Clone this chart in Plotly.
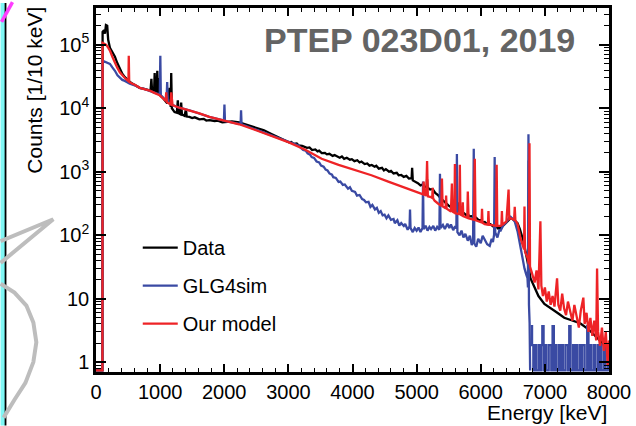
import math
import plotly.graph_objects as go

# Gamma-ray energy spectra, counts per 10 keV bin (energy in keV).
# Empty bins are stored as 0 and drawn on the bottom edge of the frame.

data_spectrum = [
    (0, 0), (100, 0), (103, 1.6e5), (125, 1.7e5), (140, 1.5e5), (155, 2.05e5), (175, 2.0e5),
    (190, 1.2e5), (217, 9.0e4), (250, 7.8e4), (295, 6.5e4), (330, 5.2e4), (372, 4.2e4),
    (410, 3.5e4), (450, 3.1e4), (490, 2.8e4), (527, 2.6e4), (565, 2.45e4), (605, 2.3e4),
    (645, 2.2e4), (682, 2.1e4), (720, 2.05e4), (760, 2.0e4), (800, 1.95e4), (850, 1.9e4),
    (864, 2.9e4), (875, 1.85e4), (905, 1.8e4), (915, 3.6e4), (925, 1.75e4), (945, 1.75e4),
    (956, 3.9e4), (968, 1.7e4), (982, 3.0e4), (992, 1.65e4), (1030, 1.5e4), (1070, 1.35e4),
    (1110, 1.2e4), (1147, 2.1e4), (1155, 1.1e4), (1165, 1.05e4), (1173, 3.6e4), (1183, 1.0e4),
    (1225, 8.7e3), (1260, 8.5e3), (1276, 1.33e4), (1290, 8.3e3), (1318, 8.0e3), (1328, 1.23e4),
    (1340, 8.0e3), (1380, 7.6e3), (1403, 9.6e3), (1415, 7.4e3), (1457, 7.3e3), (1500, 7.0e3),
    (1540, 7.2e3), (1580, 6.8e3), (1612, 6.7e3), (1680, 6.8e3), (1720, 6.4e3), (1767, 6.5e3),
    (1850, 6.3e3), (1900, 6.4e3), (1969, 6.0e3), (2050, 6.1e3), (2120, 6.2e3), (2233, 6.0e3),
    (2350, 5.5e3), (2496, 5.0e3), (2620, 4.5e3), (2744, 3.9e3), (2880, 3.3e3), (3008, 2.9e3),
    (3045, 2.95e3), (3080, 2.75e3), (3130, 2.78e3), (3160, 2.6e3), (3215, 2.55e3), (3250, 2.5e3),
    (3290, 2.38e3), (3330, 2.42e3), (3370, 2.2e3), (3420, 2.25e3), (3455, 2.1e3), (3480, 2.15e3),
    (3520, 1.97e3), (3570, 1.98e3), (3600, 1.88e3), (3640, 1.92e3), (3690, 1.78e3), (3720, 1.83e3),
    (3770, 1.72e3), (3800, 1.66e3), (3835, 1.74e3), (3870, 1.6e3), (3910, 1.66e3), (3960, 1.55e3),
    (3990, 1.58e3), (4030, 1.47e3), (4075, 1.52e3), (4110, 1.4e3), (4140, 1.45e3), (4190, 1.32e3),
    (4230, 1.35e3), (4265, 1.25e3), (4300, 1.28e3), (4345, 1.2e3), (4370, 1.24e3), (4410, 1.12e3),
    (4460, 1.15e3), (4490, 1.05e3), (4520, 1.1e3), (4570, 1.0e3), (4600, 1.03e3), (4640, 940),
    (4690, 960), (4720, 880), (4760, 890), (4800, 830), (4840, 860), (4880, 780), (4922, 790),
    (4930, 1.15e3), (4940, 730), (4980, 700), (5020, 660), (5060, 610), (5100, 630), (5130, 570),
    (5158, 585), (5163, 760), (5170, 560), (5210, 525), (5250, 535), (5290, 465), (5333, 430),
    (5370, 385), (5400, 365), (5440, 335), (5470, 312), (5500, 292), (5535, 280), (5570, 262),
    (5600, 265), (5632, 250), (5640, 330), (5648, 245), (5690, 235), (5740, 222), (5770, 208),
    (5798, 212), (5830, 198), (5860, 200), (5900, 184), (5930, 188), (5970, 172), (6000, 172),
    (6030, 160), (6062, 162), (6100, 150), (6150, 150), (6190, 138), (6230, 140), (6270, 128),
    (6310, 130), (6345, 140), (6380, 152), (6420, 170), (6465, 185), (6500, 180), (6520, 172),
    (6550, 165), (6574, 155), (6610, 125), (6630, 110), (6660, 85), (6682, 67), (6730, 40),
    (6745, 32), (6750, 1.5e3), (6756, 28), (6775, 21), (6837, 15), (6900, 11), (6992, 8.3),
    (7085, 7.2), (7194, 6.0), (7302, 5.0), (7420, 4.6), (7550, 4.1), (7680, 3.3), (7814, 2.46),
    (7900, 2.0), (7969, 1.54), (8000, 1.4),
]

glg4sim_spectrum = [
    (0, 0), (100, 0), (103, 5.6e4), (140, 5.4e4), (180, 5.3e4), (217, 5.0e4), (255, 4.4e4),
    (295, 3.9e4), (335, 3.3e4), (372, 3.0e4), (410, 2.8e4), (450, 2.7e4), (527, 2.45e4),
    (605, 2.3e4), (682, 2.1e4), (760, 2.0e4), (837, 1.9e4), (920, 1.75e4), (995, 1.65e4),
    (1003, 6.7e4), (1011, 1.6e4), (1060, 1.4e4), (1100, 1.3e4), (1110, 2.6e4), (1120, 1.25e4),
    (1194, 1.12e4), (1300, 1.02e4), (1457, 9.3e3), (1612, 8.3e3), (1767, 7.3e3), (1969, 6.5e3),
    (1995, 6.4e3), (2003, 1.15e4), (2011, 6.3e3), (2233, 5.7e3), (2255, 5.6e3), (2262, 9.3e3),
    (2270, 5.6e3), (2496, 4.6e3), (2744, 3.7e3), (3008, 2.9e3), (3050, 2.8e3), (3100, 2.7e3),
    (3158, 2.6e3), (3200, 2.35e3), (3230, 2.2e3), (3270, 2.15e3), (3300, 1.95e3), (3340, 1.85e3),
    (3364, 1.7e3), (3400, 1.65e3), (3440, 1.45e3), (3480, 1.4e3), (3510, 1.25e3), (3550, 1.2e3),
    (3581, 1.08e3), (3610, 1.05e3), (3640, 940), (3680, 900), (3700, 820), (3740, 800),
    (3783, 690), (3810, 700), (3850, 620), (3880, 630), (3930, 540), (3960, 570), (3990, 500),
    (4040, 480), (4070, 420), (4110, 430), (4150, 370), (4180, 360), (4210, 330), (4250, 335),
    (4280, 280), (4310, 300), (4350, 255), (4380, 270), (4410, 225), (4440, 240), (4470, 205),
    (4500, 210), (4530, 185), (4560, 205), (4600, 175), (4640, 180), (4660, 155), (4700, 172),
    (4730, 142), (4760, 155), (4800, 140), (4822, 150), (4860, 122), (4890, 138), (4897, 255),
    (4905, 130), (4940, 112), (4970, 130), (5000, 118), (5030, 132), (5060, 112), (5092, 130),
    (5100, 700), (5108, 125), (5140, 142), (5170, 118), (5200, 135), (5225, 125), (5260, 140),
    (5290, 118), (5320, 135), (5355, 122), (5364, 930), (5373, 130), (5410, 145), (5440, 125),
    (5480, 152), (5510, 130), (5535, 148), (5570, 120), (5600, 138), (5620, 128), (5628, 1.9e3),
    (5636, 112), (5670, 100), (5700, 118), (5730, 92), (5760, 105), (5798, 82), (5830, 98),
    (5860, 70), (5880, 82), (5891, 2.3e3), (5900, 74), (5930, 66), (5960, 88), (6000, 75),
    (6030, 98), (6062, 85), (6100, 72), (6140, 68), (6170, 88), (6190, 78), (6208, 102),
    (6217, 1.7e3), (6226, 110), (6260, 92), (6290, 120), (6310, 118), (6350, 142), (6400, 160),
    (6440, 188), (6465, 196), (6500, 178), (6530, 165), (6574, 115), (6600, 80), (6620, 63),
    (6650, 42), (6682, 30), (6710, 24), (6729, 21), (6736, 15), (6744, 3.9e3), (6752, 8),
    (6762, 4.1), (6770, 0),
]

# Sparse high-energy tail of the GLG4sim histogram, 20 keV steps from 6780 keV
glg4sim_tail_energy = list(range(6780, 8001, 20))
glg4sim_tail_counts = [
    3.7, 1.85, 0, 1.85, 0, 0, 1.85, 0, 1.85, 3.7, 0, 1.85, 0, 0, 1.85, 1.85,
    0, 3.7, 0, 1.85, 0, 0, 1.85, 0, 1.85, 0, 0, 1.85, 1.85, 0, 3.7, 0,
    0, 1.85, 0, 1.85, 0, 0, 1.85, 0, 1.85, 1.85, 0, 0, 3.7, 0, 1.85, 0,
    0, 1.85, 0, 0, 1.85, 0, 1.85, 0, 0, 1.85, 0, 0, 1.85, 0,
]

model_spectrum = [
    (0, 0), (100, 0), (103, 1.07e5), (130, 1.05e5), (160, 1.0e5), (190, 9.0e4), (217, 8.1e4),
    (255, 6.5e4), (295, 5.2e4), (330, 4.4e4), (372, 3.7e4), (410, 3.3e4), (450, 3.0e4),
    (500, 2.7e4), (506, 2.7e4), (511, 6.7e4), (518, 2.6e4), (560, 2.45e4), (605, 2.35e4),
    (682, 2.1e4), (760, 2.0e4), (837, 1.9e4), (910, 1.75e4), (992, 1.6e4), (1040, 1.45e4),
    (1085, 1.3e4), (1095, 1.78e4), (1105, 1.25e4), (1150, 1.17e4), (1165, 1.15e4),
    (1173, 1.78e4), (1183, 1.12e4), (1194, 1.12e4), (1300, 1.02e4), (1457, 9.3e3),
    (1612, 8.3e3), (1767, 7.3e3), (1969, 6.5e3), (2233, 5.6e3), (2496, 4.5e3), (2744, 3.6e3),
    (3008, 2.9e3), (3271, 2.2e3), (3519, 1.6e3), (3783, 1.28e3), (4047, 1.07e3), (4295, 880),
    (4558, 700), (4822, 560), (5023, 470), (5100, 440), (5110, 700), (5120, 440), (5150, 420),
    (5163, 1.48e3), (5175, 410), (5225, 400), (5243, 385), (5250, 560), (5257, 380), (5280, 350),
    (5333, 316), (5385, 290), (5395, 780), (5405, 285), (5452, 265), (5460, 420), (5468, 262),
    (5535, 237), (5550, 650), (5560, 235), (5590, 225), (5597, 1.33e3), (5605, 222), (5665, 215),
    (5674, 1.29e3), (5683, 212), (5712, 204), (5720, 330), (5728, 200), (5790, 188), (5798, 490),
    (5810, 185), (5895, 175), (5907, 1.6e3), (5918, 172), (6000, 160), (6012, 159), (6020, 260),
    (6028, 157), (6062, 150), (6112, 147), (6120, 240), (6128, 146), (6150, 145), (6240, 140),
    (6248, 1.29e3), (6258, 140), (6310, 140), (6322, 143), (6330, 240), (6338, 146), (6400, 165),
    (6434, 525), (6445, 180), (6465, 185), (6520, 175), (6530, 280), (6540, 172), (6574, 150),
    (6620, 90), (6675, 60), (6682, 283), (6690, 55), (6729, 44), (6752, 35), (6760, 2.8e3),
    (6768, 32), (6800, 25), (6840, 18), (6870, 28), (6900, 14), (6930, 166), (6945, 16),
    (6970, 11), (7000, 15), (7030, 9), (7060, 13), (7090, 8), (7120, 11), (7150, 7.5),
    (7190, 21), (7210, 8), (7240, 6.5), (7270, 12), (7300, 7), (7330, 5.5), (7360, 9), (7400, 6),
    (7430, 4.5), (7460, 8), (7500, 5), (7530, 3.5), (7560, 6.5), (7600, 10.4), (7620, 4),
    (7650, 6), (7680, 3), (7710, 5), (7740, 2.6), (7770, 4.5), (7800, 2.2), (7814, 30),
    (7830, 3), (7860, 1.8), (7890, 3.5), (7920, 1.5), (7950, 3), (7980, 0.9), (8000, 2.2),
]

x_ticks = [0, 1000, 2000, 3000, 4000, 5000, 6000, 7000, 8000]
y_tick_vals = [1, 10, 1e2, 1e3, 1e4, 1e5]
y_tick_text = ["1", "10", "10<sup>2</sup>", "10<sup>3</sup>", "10<sup>4</sup>", "10<sup>5</sup>"]

Y_MIN, Y_MAX = 0.70, 3.8e5
FLOOR = 0.74  # where empty bins are drawn

BLACK = "#000000"
BLUE = "#3a4aa3"
RED = "#ee2326"
FONT = "Liberation Sans"
LW = 2.3

# page geometry (pixels) for the plot frame
W, H = 636, 426
L, R, T, B = 96, 612, 5, 372


def px(x):
    return (x - L) / (R - L)


def py(y):
    return (B - y) / (B - T)


def split(points):
    e = [p[0] for p in points]
    c = [p[1] if p[1] > 0 else FLOOR for p in points]
    return e, c


fig = go.Figure()

e, c = split(data_spectrum)
fig.add_trace(go.Scatter(x=e, y=c, mode="lines", name="Data", legendgroup="a",
                         line=dict(color=BLACK, width=LW)))

e, c = split(glg4sim_spectrum)
fig.add_trace(go.Scatter(x=e, y=c, mode="lines", name="GLG4sim", legendgroup="b",
                         line=dict(color=BLUE, width=LW)))
fig.add_trace(go.Scatter(x=glg4sim_tail_energy,
                         y=[v if v > 0 else FLOOR for v in glg4sim_tail_counts],
                         mode="lines", line_shape="hv", showlegend=False, legendgroup="b",
                         line=dict(color=BLUE, width=LW)))

e, c = split(model_spectrum)
fig.add_trace(go.Scatter(x=e, y=c, mode="lines", name="Our model", legendgroup="c",
                         line=dict(color=RED, width=LW)))

minor_y = [k * 10 ** d for d in range(-1, 6) for k in range(2, 10) if Y_MIN < k * 10 ** d < Y_MAX]

fig.update_xaxes(
    range=[0, 8000], tickvals=x_ticks, ticks="inside", ticklen=8, tickwidth=1.5,
    tickcolor="black", showline=True, linecolor="black", linewidth=2.5, mirror="ticks",
    showgrid=False, zeroline=False, tickfont=dict(family=FONT, size=20, color="black"),
    minor=dict(ticks="inside", ticklen=4, tickwidth=1.2, tickcolor="black", dtick=200,
               showgrid=False),
)
fig.update_yaxes(
    type="log", range=[math.log10(Y_MIN), math.log10(Y_MAX)],
    tickvals=y_tick_vals, ticktext=y_tick_text, ticks="inside", ticklen=10, tickwidth=1.5,
    tickcolor="black", showline=True, linecolor="black", linewidth=2.5, mirror="ticks",
    showgrid=False, zeroline=False, tickfont=dict(family=FONT, size=20, color="black"),
    minor=dict(ticks="inside", ticklen=5, tickwidth=1.2, tickcolor="black",
               tickmode="array", tickvals=minor_y, showgrid=False),
)

fig.update_layout(
    width=W, height=H, autosize=False,
    margin=dict(l=L, r=W - R, t=T, b=H - B, pad=0),
    paper_bgcolor="white", plot_bgcolor="white",
    font=dict(family=FONT, size=20, color="black"),
    showlegend=True,
    legend=dict(x=px(138), y=py(227), xanchor="left", yanchor="top",
                bgcolor="rgba(0,0,0,0)", borderwidth=0, tracegroupgap=9,
                font=dict(family=FONT, size=20, color="black"), itemwidth=35),
)

fig.add_annotation(text="PTEP 023D01, 2019", xref="paper", yref="paper",
                   x=px(421), y=py(37), xanchor="center", yanchor="middle", showarrow=False,
                   font=dict(family=FONT, size=34, color="#646464", weight="bold"))
fig.add_annotation(text="Energy [keV]", xref="paper", yref="paper",
                   x=px(612), y=py(413), xanchor="right", yanchor="middle", showarrow=False,
                   font=dict(family=FONT, size=21, color="black"))
fig.add_annotation(text="Counts [1/10 keV]", xref="paper", yref="paper",
                   x=px(34), y=py(88), xanchor="center", yanchor="middle",
                   textangle=-90, showarrow=False,
                   font=dict(family=FONT, size=21, color="black"))

# slide decorations on the left margin
fig.add_shape(type="rect", xref="paper", yref="paper", x0=px(0), x1=px(4.5), y0=py(426), y1=py(0),
              fillcolor="#7ff7f5", line=dict(width=0), layer="below")
fig.add_shape(type="line", xref="paper", yref="paper", x0=px(5), x1=px(5), y0=py(426), y1=py(0),
              line=dict(color="black", width=1.8))
fig.add_shape(type="line", xref="paper", yref="paper", x0=px(12), x1=px(1), y0=py(-1), y1=py(19),
              line=dict(color="#ff3dff", width=3.5))


def path(points):
    return "M " + " L ".join(f"{px(x):.4f},{py(y):.4f}" for x, y in points)


fig.add_shape(type="path", xref="paper", yref="paper",
              path=path([(0, 240), (53, 218), (0, 262)]),
              line=dict(color="#bdbdbd", width=4))
fig.add_shape(type="path", xref="paper", yref="paper",
              path=path([(0, 283), (14, 292), (26, 305), (33, 322), (36, 342), (33, 362),
                         (25, 383), (14, 400), (3, 418)]),
              line=dict(color="#bdbdbd", width=4))

fig.write_html("out.html")
